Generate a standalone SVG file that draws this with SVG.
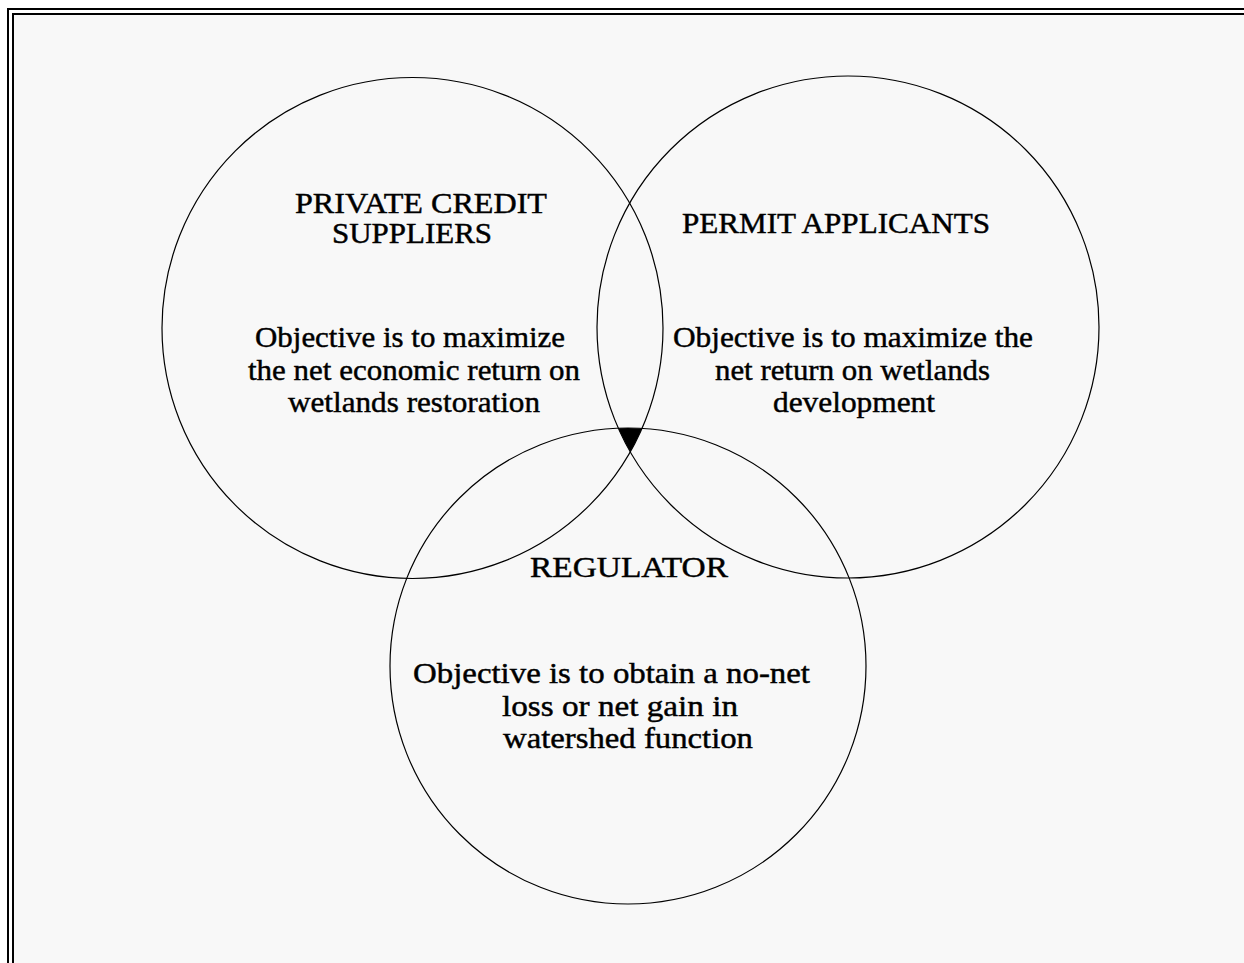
<svg xmlns="http://www.w3.org/2000/svg" width="1244" height="963" viewBox="0 0 1244 963">
<style>
.frame{fill:none;stroke:#000;stroke-width:2}
.c{fill:none;stroke:#000;stroke-width:1.2}
.t{font-family:"Liberation Serif","Times New Roman",serif;font-size:30px;fill:#000;stroke:#000;stroke-width:0.45}
</style>
<defs>
<clipPath id="clipL"><circle cx="412.5" cy="328" r="250.5"/></clipPath>
<clipPath id="clipR"><circle cx="848" cy="327" r="251"/></clipPath>
</defs>
<rect x="0" y="0" width="1244" height="963" fill="#ffffff"/>
<rect x="13" y="14" width="1300" height="1000" fill="#f8f8f8"/>
<rect class="frame" x="8" y="9" width="1300" height="1000"/>
<rect class="frame" x="13" y="14" width="1300" height="1000"/>
<g id="connectors">
<g clip-path="url(#clipL)"><g clip-path="url(#clipR)"><circle cx="628" cy="666" r="238" fill="#000"/></g></g>
</g>
<g id="private">
<circle class="c" cx="412.5" cy="328" r="250.5"/>
<text class="t" x="295" y="213" textLength="252" lengthAdjust="spacingAndGlyphs">PRIVATE CREDIT</text>
<text class="t" x="332" y="243" textLength="160" lengthAdjust="spacingAndGlyphs">SUPPLIERS</text>
<text class="t" x="255" y="347" textLength="310" lengthAdjust="spacingAndGlyphs">Objective is to maximize</text>
<text class="t" x="248" y="380" textLength="332" lengthAdjust="spacingAndGlyphs">the net economic return on</text>
<text class="t" x="288" y="412" textLength="252" lengthAdjust="spacingAndGlyphs">wetlands restoration</text>
</g>
<g id="permit">
<circle class="c" cx="848" cy="327" r="251"/>
<text class="t" x="682" y="233" textLength="308" lengthAdjust="spacingAndGlyphs">PERMIT APPLICANTS</text>
<text class="t" x="673" y="347" textLength="360" lengthAdjust="spacingAndGlyphs">Objective is to maximize the</text>
<text class="t" x="715" y="380" textLength="275" lengthAdjust="spacingAndGlyphs">net return on wetlands</text>
<text class="t" x="773" y="412" textLength="162" lengthAdjust="spacingAndGlyphs">development</text>
</g>
<g id="regulator">
<circle class="c" cx="628" cy="666" r="238"/>
<text class="t" x="530" y="577" textLength="198" lengthAdjust="spacingAndGlyphs">REGULATOR</text>
<text class="t" x="413" y="683" textLength="397" lengthAdjust="spacingAndGlyphs">Objective is to obtain a no-net</text>
<text class="t" x="502" y="716" textLength="236" lengthAdjust="spacingAndGlyphs">loss or net gain in</text>
<text class="t" x="503" y="748" textLength="250" lengthAdjust="spacingAndGlyphs">watershed function</text>
</g>
</svg>
